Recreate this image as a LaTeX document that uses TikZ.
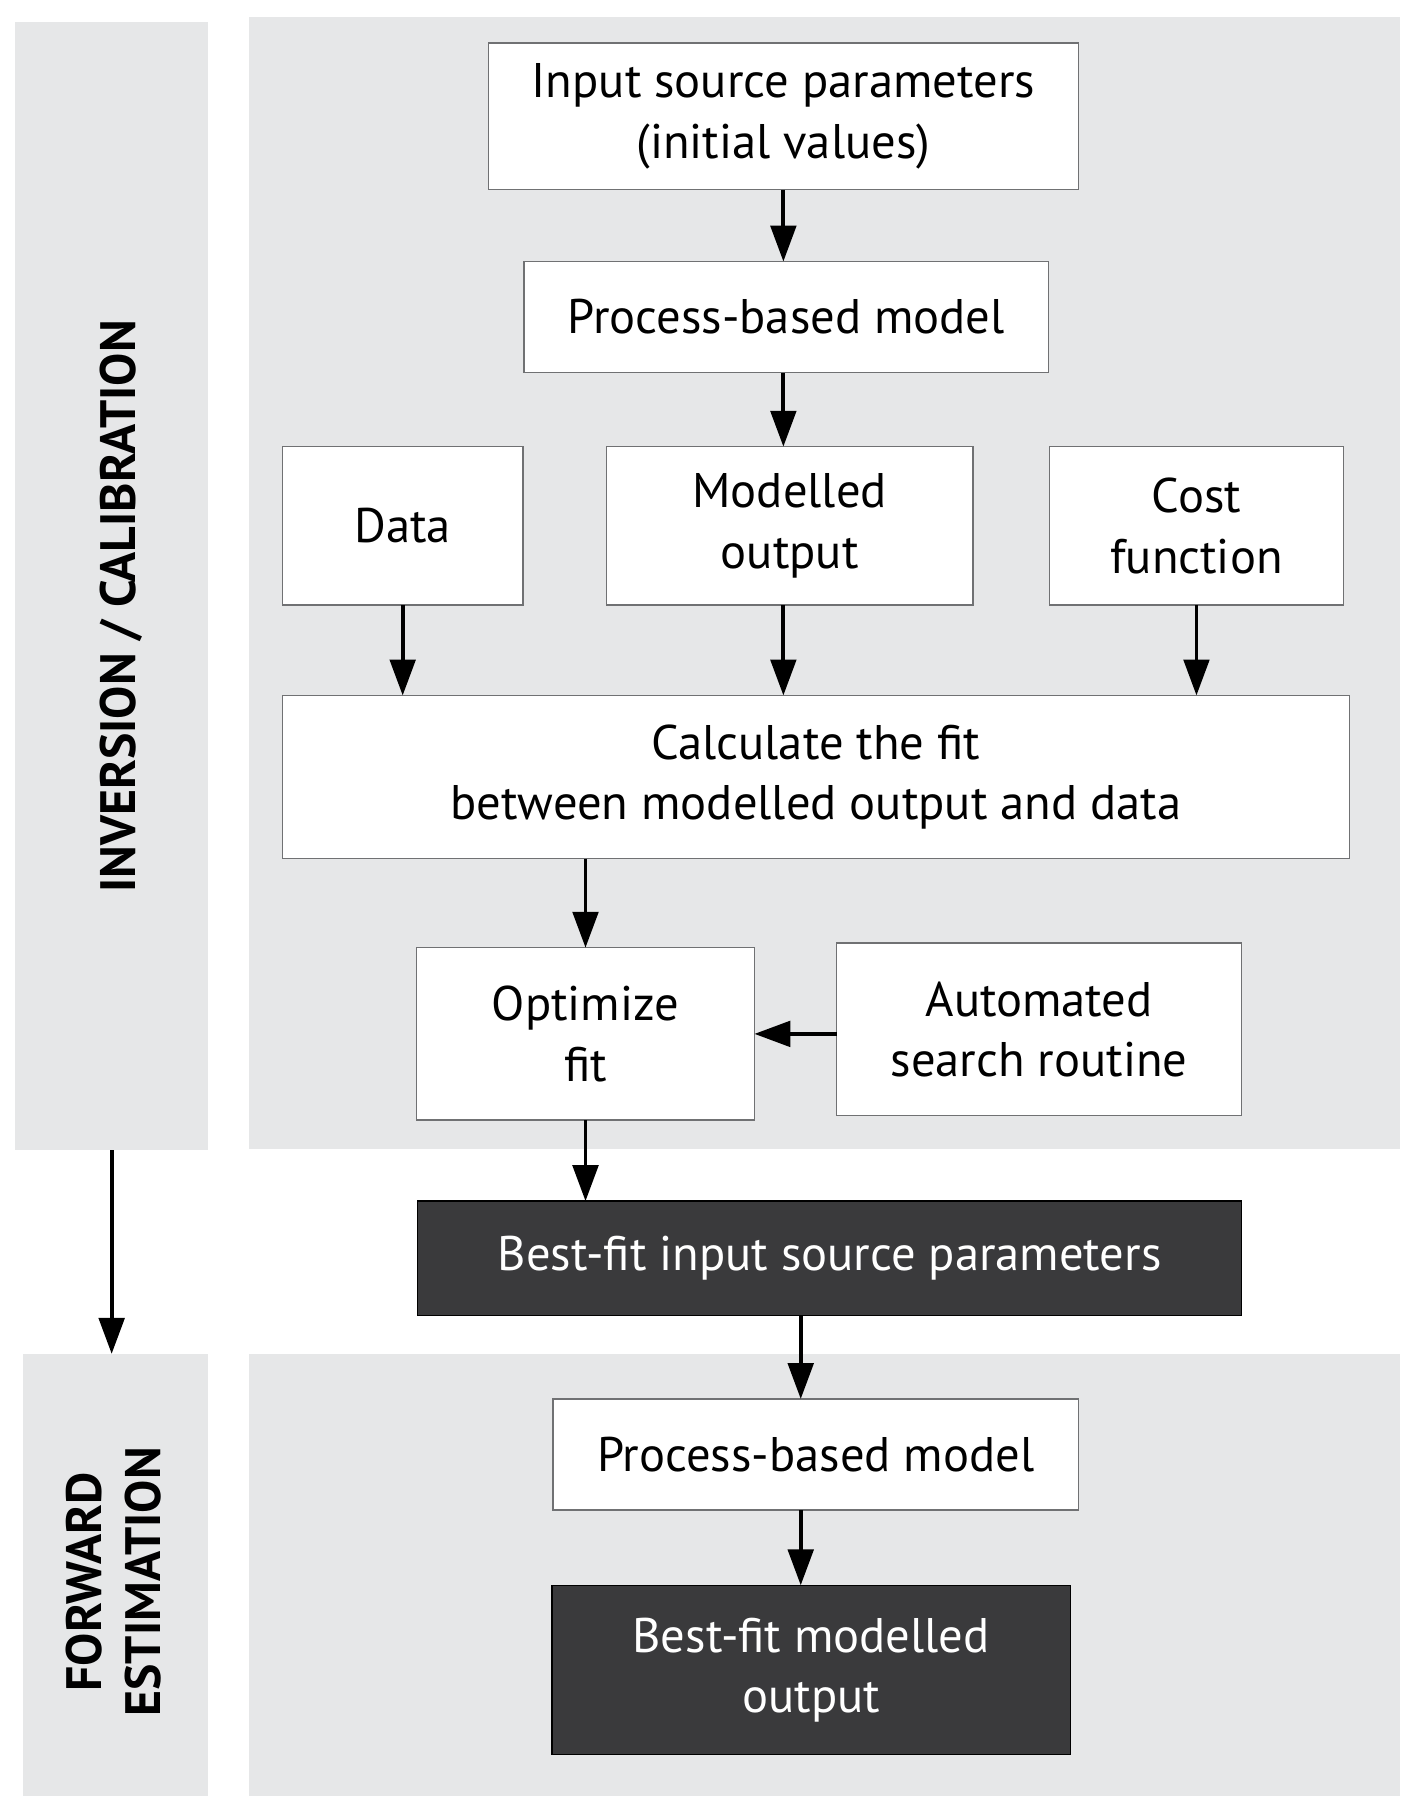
\documentclass[tikz,border=0pt]{standalone}
\usepackage{fontspec}
\setmainfont{PT Sans}
\usetikzlibrary{positioning,arrows.meta,calc}
\definecolor{panelgray}{HTML}{E6E7E8}
\definecolor{boxline}{HTML}{707173}
\definecolor{darkfill}{HTML}{3A3A3C}
\tikzstyle{panel}=[fill=panelgray, draw=none, inner sep=0pt, outer sep=0pt]
\tikzstyle{block}=[rectangle, draw=boxline, line width=1.2pt, fill=white, align=center, inner sep=0pt, outer sep=0pt, font=\fontsize{42}{52}\selectfont]
\tikzstyle{darkblock}=[block, draw=black, fill=darkfill, text=white]
\tikzstyle{sidelabel}=[rotate=90, align=center, font=\fontsize{43}{51}\selectfont\bfseries]
\tikzstyle{arr}=[line width=3.3pt, -{Triangle[length=31pt,width=22pt]}]

\begin{document}
\begin{tikzpicture}[x=1pt,y=-1pt,node distance=60pt]
	\useasboundingbox (0,0) rectangle (1224,1572);
	% background panels
	\node[panel, minimum width=167pt, minimum height=975pt] (invpanel) at (96.5,506.5) {};
	\node[panel, minimum width=995pt, minimum height=978pt] (invmain) at (712.5,504) {};
	\node[panel, minimum width=160pt, minimum height=382pt] (fwdpanel) at (100,1361) {};
	\node[panel, minimum width=995pt, minimum height=382pt] (fwdmain) at (712.5,1361) {};
	\node[sidelabel] (invname) at (105,524) {INVERSION / CALIBRATION};
	\node[sidelabel] (fwdname) at (98.5,1367) {FORWARD\\ESTIMATION};
	% inversion
	\node[block, minimum width=510pt, minimum height=127pt] (input) at (677,100.5) {Input source parameters\\(initial values)};
	\node[block, minimum width=453pt, minimum height=96pt, below=62pt of input, xshift=2.5pt] (pbm) {Process-based model};
	\node[block, minimum width=317pt, minimum height=137pt, below=64pt of pbm, xshift=3pt] (modelled) {Modelled\\output};
	\node[block, minimum width=208pt, minimum height=137pt, left=72pt of modelled] (data) {Data};
	\node[block, minimum width=254pt, minimum height=137pt, right=66pt of modelled] (cost) {Cost\\function};
	\node[block, minimum width=922pt, minimum height=141pt, below=78pt of modelled, xshift=22.5pt] (calc) {Calculate the fit\\between modelled output and data};
	\node[block, minimum width=292pt, minimum height=149pt, below=77pt of calc, xshift=-199pt] (optimize) {Optimize\\fit};
	\node[block, minimum width=350pt, minimum height=149pt, right=71pt of optimize, yshift=4pt] (search) {Automated\\search routine};
	% best fit and forward
	\node[darkblock, minimum width=712pt, minimum height=99pt, below=70pt of optimize, xshift=211pt] (bestin) {Best-fit input source parameters};
	\node[block, minimum width=454pt, minimum height=96pt, below=72pt of bestin, xshift=-12pt] (pbmfwd) {Process-based model};
	\node[darkblock, minimum width=448pt, minimum height=146pt, below=65pt of pbmfwd, xshift=-4pt] (bestout) {Best-fit modelled\\output};
	\path[arr]
	(input) edge (input |- pbm.north)
	(pbm.south -| input) edge (input |- modelled.north)
	(data) edge (data |- calc.north)
	(modelled.south -| input) edge (input |- calc.north)
	(cost) edge (cost |- calc.north)
	(optimize |- calc.south) edge (optimize)
	(search.west |- optimize) edge (optimize.east)
	(optimize) edge (optimize |- bestin.north)
	([xshift=-25pt]bestin.south) edge ([xshift=-25pt]bestin.south |- pbmfwd.north)
	([xshift=-25pt]bestin.south |- pbmfwd.south) edge ([xshift=-25pt]bestin.south |- bestout.north)
	(invpanel.south) edge (invpanel.south |- fwdpanel.north);
\end{tikzpicture}
\end{document}
